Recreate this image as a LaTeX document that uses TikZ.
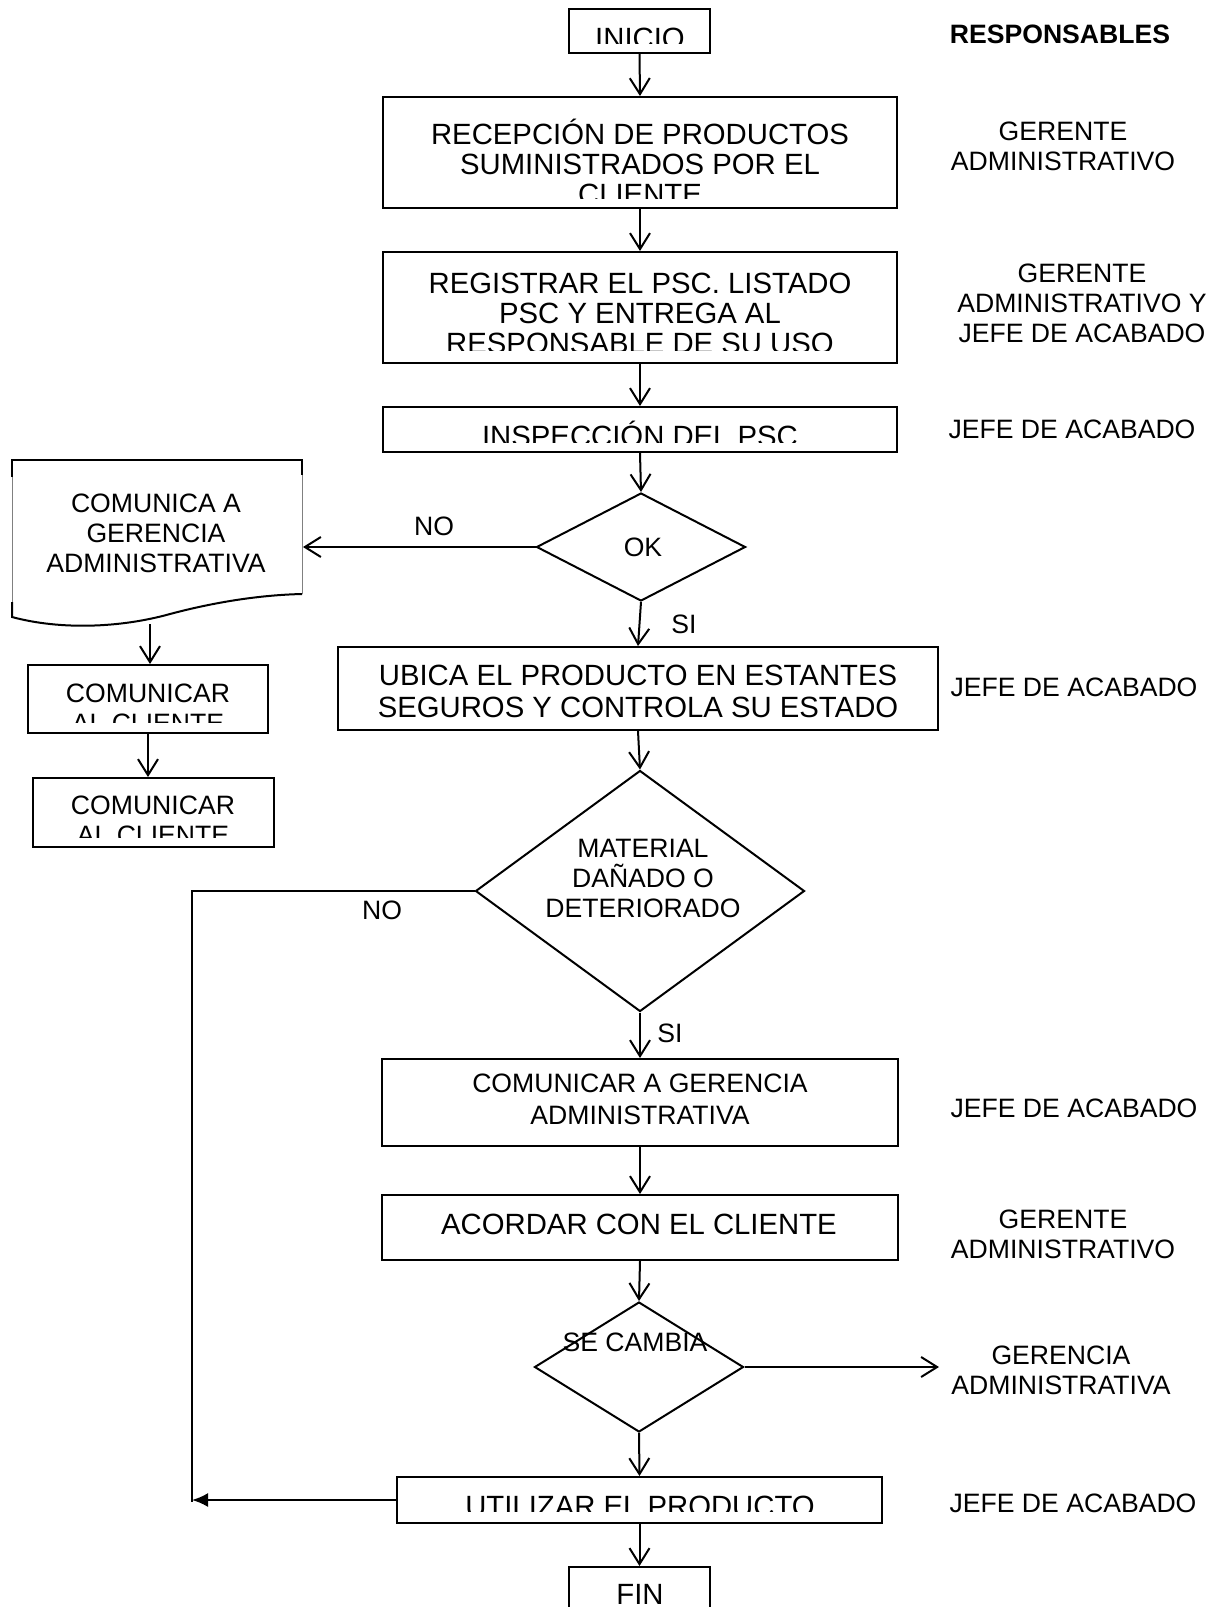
\documentclass[tikz,border=0pt]{standalone}
\usepackage{fontspec}
\setmainfont{Liberation Sans}
\usetikzlibrary{shapes.geometric,arrows.meta,fit}

\tikzset{
  x=0.5pt, y=-0.5pt,
  box/.style={draw, line width=1pt, inner sep=0pt},
  dia/.style={draw, diamond, line width=1pt, inner sep=0pt},
  arr/.style={line width=1pt, -{Straight Barb[length=8pt,width=10pt,line width=1pt]}},
  farr/.style={line width=1pt, -{Latex[length=8pt,width=7pt]}},
  plain/.style={line width=1pt},
  big/.style={font=\fontsize{14.65pt}{15pt}\selectfont, align=center, anchor=base, inner sep=0pt},
  bigw/.style={font=\fontsize{14.65pt}{16pt}\selectfont, align=center, anchor=base, inner sep=0pt},
  small/.style={font=\fontsize{13.3pt}{15pt}\selectfont, align=center, anchor=base, inner sep=0pt},
  smallw/.style={font=\fontsize{13.3pt}{16pt}\selectfont, align=center, anchor=base, inner sep=0pt},
}

\begin{document}
\begin{tikzpicture}
\useasboundingbox (0,0) rectangle (1218,1607);
\fill[white] (0,0) rectangle (1218,1607);
\clip (0,0) rectangle (1218,1607);

% ---------- main column: boxes ----------
\node[box, fit={(569,9) (710,53)}] (inicio) {};
\begin{scope}\clip (569,9) rectangle (710,43);
  \node[big] (tinicio) at (640,48) {INICIO};
\end{scope}

\node[box, fit={(383,97) (897,208)}] (recep) {};
\begin{scope}\clip (383,97) rectangle (897,198);
  \node[big] (trecep) at (640,204) {RECEPCIÓN DE PRODUCTOS\\SUMINISTRADOS POR EL\\CLIENTE};
\end{scope}

\node[box, fit={(383,252) (897,363)}] (regis) {};
\begin{scope}\clip (383,252) rectangle (897,350);
  \node[big] (tregis) at (640,353) {REGISTRAR EL PSC. LISTADO\\PSC Y ENTREGA AL\\RESPONSABLE DE SU USO};
\end{scope}

\node[box, fit={(383,407) (897,452)}] (insp) {};
\begin{scope}\clip (383,407) rectangle (897,442);
  \node[big] (tinsp) at (640,446) {INSPECCIÓN DEL PSC};
\end{scope}

\node[dia, minimum width=104.5pt, minimum height=54pt] (ok) at (641,547) {};
\node[small] (tok) at (643,556.5) {OK};

\node[box, fit={(338,647) (938,730)}] (ubica) {};
\node[bigw] (tubica) at (638,717.5) {UBICA EL PRODUCTO EN ESTANTES\\SEGUROS Y CONTROLA SU ESTADO};

\node[dia, minimum width=164.5pt, minimum height=120.5pt] (mat) at (640,891) {};
\node[small] (tmat) at (643,917.5) {MATERIAL\\DAÑADO O\\DETERIORADO};

\node[box, fit={(382,1059) (898,1146)}] (comger) {};
\node[smallw] (tcomger) at (640,1124.5) {COMUNICAR A GERENCIA\\ADMINISTRATIVA};

\node[box, fit={(382,1195) (898,1260)}] (acord) {};
\node[big] (tacord) at (639,1234.5) {ACORDAR CON EL CLIENTE};

\node[dia, minimum width=104.5pt, minimum height=65pt] (camb) at (639,1367) {};
\node[small] (tcamb) at (635,1351.5) {SE CAMBIA};

\node[box, fit={(397,1477) (882,1523)}] (util) {};
\begin{scope}\clip (397,1477) rectangle (882,1511);
  \node[big] (tutil) at (640,1516) {UTILIZAR EL PRODUCTO};
\end{scope}

\node[box, fit={(569,1567) (710,1640)}] (fin) {};
\node[big] (tfin) at (640,1604) {FIN};

% ---------- left branch ----------
\draw[line width=1pt] (12,477) -- (12,460) -- (302,460) -- (302,475);
\draw[line width=0.4pt, gray] (12,477) -- (12,602) (302,475) -- (302,594);
\draw[line width=1pt] (12,602) -- (12,617)
  .. controls (60,630) and (120,628) .. (170,614)
  .. controls (215,602) and (260,595) .. (302,594);
\node[small] (doc) at (156,572.5) {COMUNICA A\\GERENCIA\\ADMINISTRATIVA};
\coordinate (docE) at (303,547);
\coordinate (docS) at (150,624);

\node[box, fit={(28,665) (268,733)}] (cli1) {};
\begin{scope}\clip (28,665) rectangle (268,722);
  \node[small] (tcli1) at (148,732.5) {COMUNICAR\\AL CLIENTE};
\end{scope}

\node[box, fit={(33,778) (274,847)}] (cli2) {};
\begin{scope}\clip (33,778) rectangle (274,837);
  \node[small] (tcli2) at (153,844.5) {COMUNICAR\\AL CLIENTE};
\end{scope}

% ---------- connectors ----------
\draw[arr] (inicio.south) -- (recep.north);
\draw[arr] (recep.south) -- (regis.north);
\draw[arr] (regis.south) -- (insp.north);
\draw[arr] (insp.south) -- (ok.north);
\draw[arr] (ok.west) -- (docE);
\node[small] (no1) at (434,535.5) {NO};
\draw[arr] (docS) -- (docS |- cli1.north);
\draw[arr] (cli1.south) -- (cli1.south |- cli2.north);
\draw[arr] (ok.south) -- (ubica.north);
\node[small] (si1) at (684,633.5) {SI};
\draw[arr] (ubica.south) -- (mat.north);

\coordinate (noA) at (192,891);
\coordinate (noB) at (192,1500);
\draw[plain] (mat.west) -- (noA) -- ([yshift=-1pt]noB);
\node[small] (no2) at (382,919.5) {NO};
\draw[farr] (util.west) -- (noB);

\draw[arr] (mat.south) -- (comger.north);
\node[small] (si2) at (670,1042) {SI};
\draw[arr] (comger.south) -- (acord.north);
\draw[arr] (acord.south) -- (camb.north);
\coordinate (cambE) at (939,1367);
\draw[arr] (camb.east) -- (cambE);
\draw[arr] (camb.south) -- (util.north);
\draw[arr] (util.south) -- (fin.north);

% ---------- responsibles column ----------
\node[small, font=\fontsize{13.3pt}{15pt}\selectfont\bfseries] (resp) at (1060,43.5) {RESPONSABLES};
\node[small] (r1) at (1063,170.5) {GERENTE\\ADMINISTRATIVO};
\node[small] (r2) at (1082,342.5) {GERENTE\\ADMINISTRATIVO Y\\JEFE DE ACABADO};
\node[small] (r3) at (1072,438) {JEFE DE ACABADO};
\node[small] (r4) at (1074,696.5) {JEFE DE ACABADO};
\node[small] (r5) at (1074,1117) {JEFE DE ACABADO};
\node[small] (r6) at (1063,1258.5) {GERENTE\\ADMINISTRATIVO};
\node[small] (r7) at (1061,1394.5) {GERENCIA\\ADMINISTRATIVA};
\node[small] (r8) at (1073,1512.5) {JEFE DE ACABADO};
\end{tikzpicture}
\end{document}
